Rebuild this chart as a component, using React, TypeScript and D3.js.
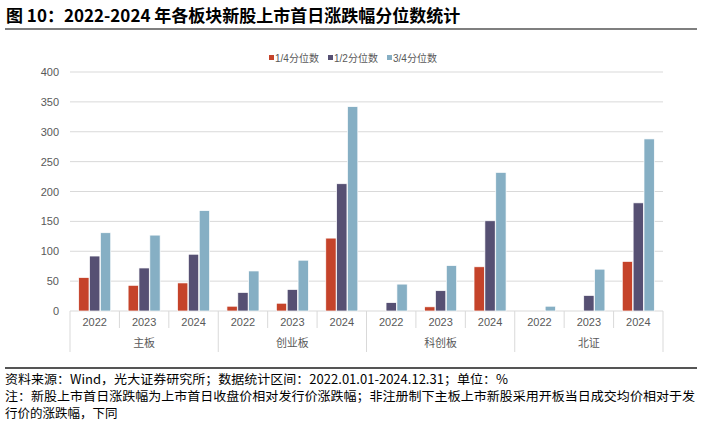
import * as d3 from 'd3';

const groups = ['主板', '创业板', '科创板', '北证'];
const years = ['2022', '2023', '2024'];
const seriesNames = ['1/4分位数', '1/2分位数', '3/4分位数'];
const seriesColors = ['#C5432A', '#565073', '#86AFC4'];

// one value per board-year, in the order of groups x years
const q1 = [56, 43, 47, 8, 13, 122, 0, 7, 74, 0, 0, 83];
const q2 = [92, 72, 95, 31, 36, 213, 14, 34, 151, 0, 26, 181];
const q3 = [131, 127, 168, 67, 85, 342, 45, 76, 232, 8, 70, 288];
const yTicks = [0, 50, 100, 150, 200, 250, 300, 350, 400];

const W = 703;
const H = 426;
const FONT = '"Liberation Sans", "Noto Sans CJK SC", sans-serif';
const CJK = '"Noto Sans CJK SC", sans-serif';

export default function App() {
    const cats = groups.flatMap(g => years.map(y => `${g}|${y}`));
    const series = [q1, q2, q3];

    const x = d3.scaleBand().domain(cats).range([70, 663]).padding(0);
    const xs = d3.scaleBand<number>()
        .domain([0, 1, 2])
        .range([0, x.bandwidth()])
        .paddingInner(0.05)
        .paddingOuter(0.8);
    const y = d3.scaleLinear().domain([0, 400]).range([311, 72]);

    const groupW = x.bandwidth() * years.length;
    const grey = '#d9d9d9';
    const labelColor = '#595959';

    return (
        <svg width={W} height={H} style={{ position: 'absolute', left: 0, top: 0, background: '#fff' }}>
            {/* title */}
            <text x={6} y={22} fontFamily={CJK} fontWeight="bold" fontSize={17} fill="#000">
                图 10：2022-2024 年各板块新股上市首日涨跌幅分位数统计
            </text>
            <line x1={5} x2={697} y1={29} y2={29} stroke="#7f7f7f" strokeWidth={2} />

            {/* legend */}
            {seriesNames.map((s, i) => {
                const lx = [269, 328, 387][i];
                return (
                    <g key={s}>
                        <rect x={lx} y={55} width={5} height={5} fill={seriesColors[i]} />
                        <text x={lx + 6} y={61.5} fontFamily={FONT} fontSize={10} fill={labelColor}>{s}</text>
                    </g>
                );
            })}

            {/* grid + y labels */}
            {yTicks.map(t => (
                <g key={t}>
                    <line x1={70} x2={663} y1={y(t)} y2={y(t)} stroke={grey} strokeWidth={1} />
                    <text x={59} y={y(t) + 4} textAnchor="end" fontFamily={FONT} fontSize={11} fill={labelColor}>{t}</text>
                </g>
            ))}

            {/* bars */}
            {series.map((vals, si) => (
                <g key={si}>
                    {vals.map((v, ci) => v > 0 && (
                        <rect key={ci}
                            x={(x(cats[ci]) || 0) + (xs(si) || 0)}
                            y={y(v)}
                            width={xs.bandwidth()}
                            height={y(0) - y(v)}
                            fill={seriesColors[si]}
                            stroke="#fff"
                            strokeWidth={0.7} />
                    ))}
                </g>
            ))}

            {/* category axis */}
            {cats.map((c, ci) => {
                const x0 = x(c) || 0;
                const isGroupStart = ci % years.length === 0;
                return (
                    <g key={c}>
                        <line x1={x0} x2={x0} y1={311} y2={isGroupStart ? 352 : 328} stroke={grey} />
                        <text x={x0 + x.bandwidth() / 2} y={326} textAnchor="middle" fontFamily={FONT} fontSize={11} fill={labelColor}>
                            {c.split('|')[1]}
                        </text>
                    </g>
                );
            })}
            <line x1={663} x2={663} y1={311} y2={352} stroke={grey} />
            {groups.map((g, gi) => (
                <text key={g} x={70 + groupW * gi + groupW / 2} y={347} textAnchor="middle" fontFamily={CJK} fontSize={11} fill={labelColor}>
                    {g}
                </text>
            ))}

            {/* footer */}
            <line x1={5} x2={697} y1={368} y2={368} stroke="#555" strokeWidth={2} />
            <g fontFamily={CJK} fontSize={12.5} fill="#000">
                <text x={5} y={384} textLength={503} lengthAdjust="spacingAndGlyphs">资料来源：Wind，光大证券研究所；数据统计区间：2022.01.01-2024.12.31；单位：%</text>
                <text x={5} y={401} textLength={690} lengthAdjust="spacingAndGlyphs">注：新股上市首日涨跌幅为上市首日收盘价相对发行价涨跌幅；非注册制下主板上市新股采用开板当日成交均价相对于发</text>
                <text x={5} y={418}>行价的涨跌幅，下同</text>
            </g>
        </svg>
    );
}
